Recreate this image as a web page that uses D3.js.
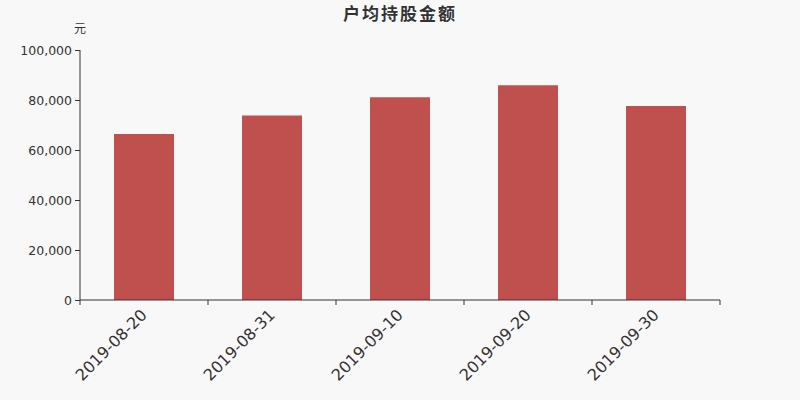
<!DOCTYPE html>
<html>
<head>
<meta charset="utf-8">
<script src="https://cdn.jsdelivr.net/npm/d3@7"></script>
<style>
    body { margin: 0; background: #f8f8f8; }
    #space { width: 800px; height: 400px; }
</style>
</head>
<body>
<div id="space"></div>
<script>
// chart data
var dates = ["2019-08-20", "2019-08-31", "2019-09-10", "2019-09-20", "2019-09-30"];
var values = [66400, 73800, 81100, 85900, 77600];
var y_ticks = [0, 20000, 40000, 60000, 80000, 100000];

var svg, x, y;

function init() {
    initSvg();

    x = d3.scaleBand().domain(dates).range([80, 720]).paddingInner(0).paddingOuter(0);
    y = d3.scaleLinear().domain([0, 100000]).range([300, 50]);

    drawBars();
    drawAxes();
    drawText();
}

function initSvg() {
    svg = d3.select("#space").append("svg")
            .attr("width", 800)
            .attr("height", 400)
            .style("font-family", "'DejaVu Sans', sans-serif");

    svg.append("rect")
       .attr("width", 800).attr("height", 400)
       .attr("fill", "#f8f8f8");
}

function drawBars() {
    var bw = 60;
    svg.append("g").selectAll("rect")
       .data(values)
       .enter()
       .append("rect")
       .attr("x", function (d, i) { return x(dates[i]) + x.bandwidth() / 2 - bw / 2; })
       .attr("y", function (d) { return y(d); })
       .attr("width", bw)
       .attr("height", function (d) { return y(0) - y(d); })
       .attr("fill", "#c0504e");
}

function drawAxes() {
    //Y axis
    var ya = svg.append("g")
                .attr("transform", "translate(80,0)")
                .call(d3.axisLeft(y).tickValues(y_ticks).tickSize(5).tickPadding(3)
                        .tickFormat(d3.format(",")));
    ya.select(".domain").attr("stroke", "#333").attr("d", "M0,50V300");
    ya.selectAll(".tick line").attr("stroke", "#333");
    ya.selectAll(".tick text")
      .attr("fill", "#333")
      .style("font-family", "'DejaVu Sans', sans-serif")
      .style("font-size", "12.5px");

    //X axis, ticks at band boundaries
    var xa = svg.append("g").attr("transform", "translate(0,300)");
    xa.append("line")
      .attr("x1", 80).attr("x2", 720)
      .attr("stroke", "#333");
    var bounds = dates.map(function (d) { return x(d); }).concat([720]);
    xa.selectAll(".xt").data(bounds).enter()
      .append("line")
      .attr("x1", function (d) { return d; }).attr("x2", function (d) { return d; })
      .attr("y1", 0).attr("y2", 5)
      .attr("stroke", "#333");

    xa.selectAll("text").data(dates).enter()
      .append("text")
      .attr("transform", function (d) {
          return "translate(" + (x(d) + x.bandwidth() / 2) + ",12) rotate(-45)";
      })
      .attr("text-anchor", "end")
      .attr("dy", "0.35em")
      .style("font-size", "16px")
      .attr("fill", "#333")
      .text(function (d) { return d; });
}

function drawText() {
    svg.append("text")
       .attr("x", 400).attr("y", 20)
       .attr("text-anchor", "middle")
       .attr("font-size", 17)
       .attr("font-weight", "bold")
       .attr("letter-spacing", 2)
       .attr("fill", "#333")
       .style("font-family", "'Noto Sans CJK SC', sans-serif")
       .text("户均持股金额");

    svg.append("text")
       .attr("x", 80).attr("y", 33)
       .attr("text-anchor", "middle")
       .attr("font-size", 12)
       .attr("fill", "#333")
       .style("font-family", "'Noto Sans CJK SC', sans-serif")
       .text("元");
}

init();
</script>
</body>
</html>
